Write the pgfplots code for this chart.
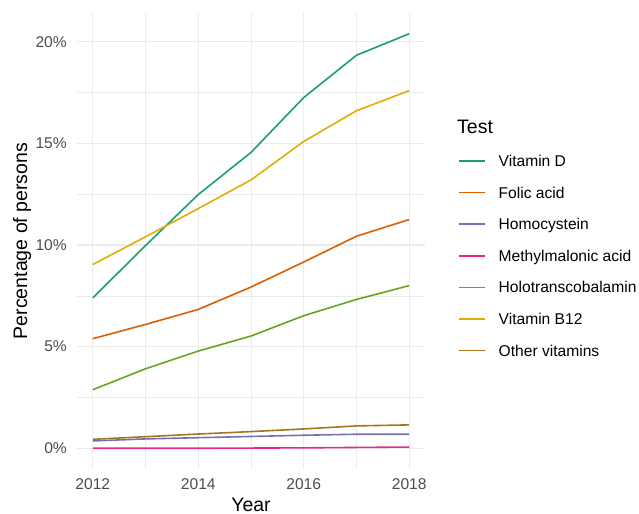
\documentclass[border=0pt]{standalone}
\usepackage{pgfplots}
\pgfplotsset{compat=1.18}
\usepackage{fontspec}
\setmainfont{Liberation Sans}
\definecolor{cD}{HTML}{1B9E77}
\definecolor{cF}{HTML}{D95F02}
\definecolor{cH}{HTML}{7570B3}
\definecolor{cM}{HTML}{E7298A}
\definecolor{cHo}{HTML}{66A61E}
\definecolor{cB}{HTML}{E6AB02}
\definecolor{cO}{HTML}{A6761D}
\definecolor{gridc}{HTML}{EBEBEB}
\definecolor{tickc}{HTML}{4D4D4D}
\begin{document}
\begin{tikzpicture}
\path[use as bounding box] (-77bp,-45bp) rectangle (562bp,469bp);
\begin{axis}[
  at={(0,0)}, anchor=south west,
  scale only axis, width=348bp, height=456bp,
  clip=false,
  xmin=2011.7, xmax=2018.3, ymin=-1.02, ymax=21.41,
  xtick={2012,2014,2016,2018}, xticklabels={2012,2014,2016,2018},
  minor xtick={2013,2015,2017},
  ytick={0,5,10,15,20}, yticklabels={0\%,5\%,10\%,15\%,20\%},
  minor ytick={2.5,7.5,12.5,17.5},
  grid=both,
  major grid style={gridc, line width=1.1bp},
  minor grid style={gridc, line width=0.55bp},
  axis line style={draw=none},
  major tick length=0pt, minor tick length=0pt,
  tick label style={font=\fontsize{15.6bp}{18bp}\selectfont, text=tickc, inner sep=0pt},
  xticklabel style={anchor=north, yshift=-9bp},
  yticklabel style={anchor=east, xshift=-10bp},
  /pgf/number format/assume math mode=true,
  xlabel={Year},
  ylabel={Percentage of persons},
  every axis x label/.style={at={(axis description cs:0.5,0)}, anchor=center, yshift=-35.5bp, font=\fontsize{19.5bp}{22bp}\selectfont},
  every axis y label/.style={at={(axis description cs:0,0.5)}, xshift=-55bp, anchor=center, rotate=90, font=\fontsize{19.5bp}{22bp}\selectfont},
  legend style={draw=none, fill=none, inner sep=0pt, outer sep=0pt,
    at={(axis description cs:1.0948,0.6919)}, anchor=north west,
    font=\fontsize{15.6bp}{18bp}\selectfont,
    row sep=16.6bp, column sep=13bp,
    nodes={inner sep=0pt, text height=13bp, text depth=2bp}},
  legend cell align=left,
  legend image code/.code={\draw[#1, line width=1.7bp] (0bp,0bp) -- (26bp,0bp);},
  every axis plot/.append style={line width=1.6bp, line join=round},
]
\addplot[cD] coordinates {(2012,7.40) (2013,9.97) (2014,12.48) (2015,14.55) (2016,17.25) (2017,19.33) (2018,20.39)};
\addlegendentry{Vitamin D}
\addplot[cF] coordinates {(2012,5.39) (2013,6.09) (2014,6.83) (2015,7.93) (2016,9.16) (2017,10.43) (2018,11.25)};
\addlegendentry{Folic acid}
\addplot[cH] coordinates {(2012,0.36) (2013,0.46) (2014,0.52) (2015,0.58) (2016,0.64) (2017,0.69) (2018,0.69)};
\addlegendentry{Homocystein}
\addplot[cM] coordinates {(2012,0.00) (2013,0.00) (2014,0.00) (2015,0.01) (2016,0.02) (2017,0.04) (2018,0.06)};
\addlegendentry{Methylmalonic acid}
\addplot[cHo] coordinates {(2012,2.88) (2013,3.91) (2014,4.78) (2015,5.52) (2016,6.52) (2017,7.32) (2018,8.00)};
\addlegendentry{Holotranscobalamin}
\addplot[cB] coordinates {(2012,9.04) (2013,10.40) (2014,11.79) (2015,13.20) (2016,15.09) (2017,16.60) (2018,17.59)};
\addlegendentry{Vitamin B12}
\addplot[cO] coordinates {(2012,0.44) (2013,0.57) (2014,0.70) (2015,0.82) (2016,0.95) (2017,1.10) (2018,1.15)};
\addlegendentry{Other vitamins}
\node[anchor=base west, inner sep=0pt, font=\fontsize{19.5bp}{22bp}\selectfont] at (axis description cs:1.092,0.7362) {Test};
\end{axis}
\end{tikzpicture}
\end{document}
